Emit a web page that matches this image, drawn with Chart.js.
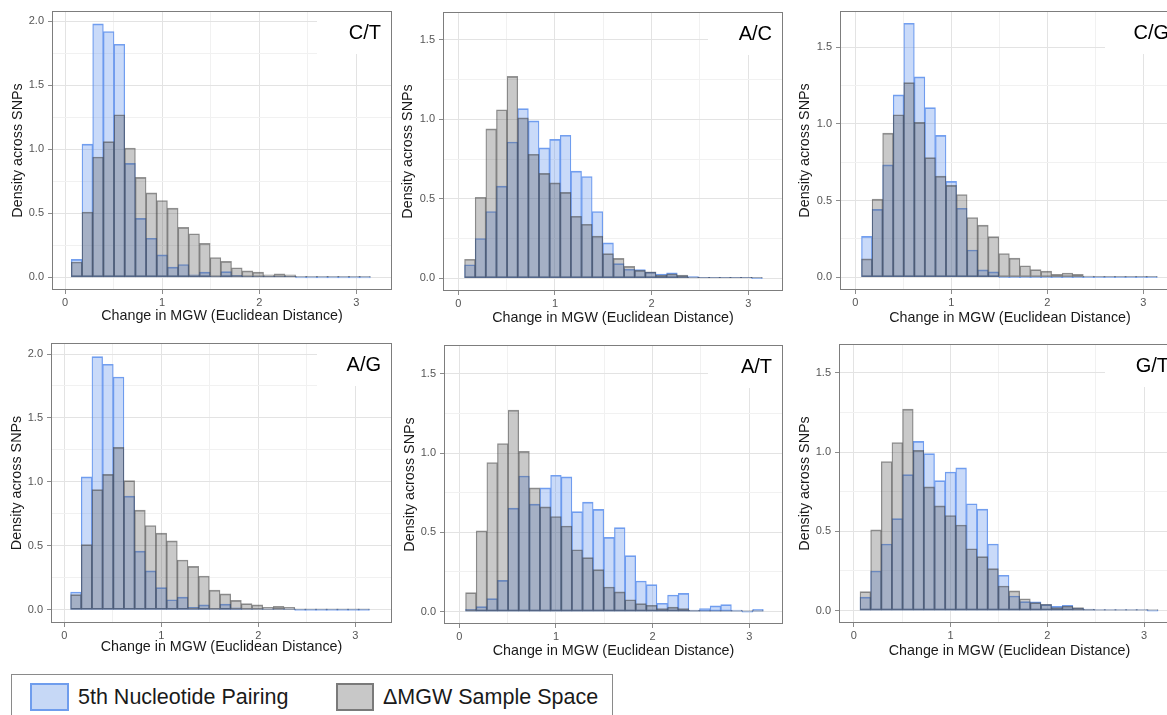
<!DOCTYPE html>
<html lang="en">
<head>
<meta charset="UTF-8">
<title>Change in MGW histograms</title>
<script src="https://cdn.jsdelivr.net/npm/chart.js"></script>
<style>
  html, body { margin: 0; padding: 0; background: #fff; }
  body { position: relative; width: 1167px; height: 715px; overflow: hidden; }
  canvas { position: absolute; }
  .legend { position: absolute; left: 11px; top: 674px; width: 602px; height: 60px; border: 1px solid #8a8a8a; box-sizing: border-box; }
  .key { position: absolute; top: 8px; height: 28px; box-sizing: border-box; border: 2px solid; }
  .lab { position: absolute; top: 12px; font: 21.5px "Liberation Sans", Arial, sans-serif; line-height: 21.5px; color: #1a1a1a; white-space: nowrap; }
</style>
</head>
<body>

<div class="legend">
  <div class="key" style="left:18px; width:39px; background:#c6d8f6; border-color:#6f9ded;"></div>
  <div class="lab" style="left:66px;">5th Nucleotide Pairing</div>
  <div class="key" style="left:324px; width:38px; background:#c8c8c8; border-color:#7a7a7a;"></div>
  <div class="lab" style="left:371px;">ΔMGW Sample Space</div>
</div>

<script>
// bin centres of the histogram (bin width 0.11)
const binCenters = [0.12, 0.23, 0.34, 0.45, 0.56, 0.67, 0.78, 0.89, 1.00, 1.11, 1.22, 1.33, 1.44, 1.55,
                    1.66, 1.77, 1.88, 1.99, 2.10, 2.21, 2.32, 2.43, 2.54, 2.65, 2.76, 2.87, 2.98, 3.09];

// grey: ΔMGW sample space (same in every panel)
const sampleSpace = [0.12, 0.51, 0.94, 1.06, 1.27, 1.01, 0.78, 0.66, 0.60, 0.54, 0.39, 0.34, 0.265, 0.155,
                     0.125, 0.075, 0.05, 0.04, 0.02, 0.028, 0.02, 0.008, 0.006, 0.005, 0.006, 0.003, 0.002, 0.002];

// blue: 5th nucleotide pairing, one list per substitution
const pairCT = [0.14, 1.04, 1.98, 1.92, 1.82, 0.89, 0.46, 0.305, 0.175, 0.08, 0.10, 0.02, 0.04, 0.01,
                0.045, 0.016, 0.008, 0.005, 0.003, 0.003, 0.002, 0, 0, 0, 0, 0, 0, 0];
const pairAC = [0.085, 0.25, 0.42, 0.58, 0.857, 1.067, 0.99, 0.82, 0.874, 0.90, 0.674, 0.64, 0.42, 0.223,
                0.092, 0.057, 0.055, 0.038, 0.027, 0.034, 0.015, 0.01, 0.005, 0.004, 0.003, 0.002, 0.001, 0];
const pairCG = [0.267, 0.443, 0.733, 1.19, 1.657, 1.307, 1.107, 0.926, 0.626, 0.45, 0.178, 0.048, 0.035, 0,
                0, 0, 0, 0, 0, 0, 0, 0, 0, 0, 0, 0, 0, 0];
const pairAG = [0.14, 1.04, 1.98, 1.92, 1.82, 0.89, 0.46, 0.305, 0.175, 0.08, 0.10, 0.02, 0.04, 0.01,
                0.045, 0.016, 0.008, 0.005, 0.003, 0.003, 0.002, 0, 0, 0, 0, 0, 0, 0];
const pairAT = [0.015, 0.032, 0.082, 0.197, 0.653, 0.855, 0.678, 0.78, 0.86, 0.85, 0.63, 0.69, 0.645, 0.468,
                0.53, 0.353, 0.193, 0.17, 0.053, 0.105, 0.115, 0.01, 0.019, 0.036, 0.044, 0.01, 0, 0.015];
const pairGT = [0.085, 0.25, 0.42, 0.58, 0.857, 1.067, 0.99, 0.82, 0.874, 0.90, 0.674, 0.64, 0.42, 0.223,
                0.092, 0.057, 0.055, 0.038, 0.027, 0.034, 0.015, 0.01, 0.005, 0.004, 0.003, 0.002, 0.001, 0];

const panelTags = ['C/T', 'A/C', 'C/G', 'A/G', 'A/T', 'G/T'];
const panelPairs = [pairCT, pairAC, pairCG, pairAG, pairAT, pairGT];

const xTitle = 'Change in MGW (Euclidean Distance)';
const yTitle = 'Density across SNPs';

// page layout of each panel: canvas origin, plot box, axis ranges, title centres
const frames = [
  { cx: 0,   cy: 0,   L: 52,  T: 11,  R: 392,  B: 290, xr: [-0.134, 3.368], yr: [-0.099, 2.080], xt: 316,   yt: 18.5 },
  { cx: 390, cy: 0,   L: 443, T: 12,  R: 783,  B: 291, xr: [-0.158, 3.359], yr: [-0.080, 1.675], xt: 318,   yt: 408.5 },
  { cx: 780, cy: 0,   L: 840, T: 11,  R: 1180, B: 290, xr: [-0.159, 3.382], yr: [-0.083, 1.737], xt: 318,   yt: 805 },
  { cx: 0,   cy: 330, L: 51,  T: 343, R: 392,  B: 623, xr: [-0.137, 3.378], yr: [-0.102, 2.086], xt: 647.5, yt: 17 },
  { cx: 390, cy: 330, L: 444, T: 345, R: 783,  B: 624, xr: [-0.158, 3.349], yr: [-0.078, 1.681], xt: 651,   yt: 410.5 },
  { cx: 780, cy: 330, L: 839, T: 344, R: 1180, B: 623, xr: [-0.152, 3.372], yr: [-0.078, 1.681], xt: 651.5, yt: 805 }
];

const FONT = '"Liberation Sans", Arial, Helvetica, sans-serif';
Chart.defaults.font.family = FONT;

const isMajorX = v => Math.abs(v - Math.round(v)) < 1e-6;
const isMajorY = v => Math.abs(v * 2 - Math.round(v * 2)) < 1e-6;

// white label box, panel tag and frame
const panelTag = {
  id: 'panelTag',
  beforeDatasetsDraw(chart) {
    const a = chart.chartArea, ctx = chart.ctx;
    ctx.save();
    ctx.fillStyle = '#fff';
    ctx.fillRect(a.right - 75, a.top + 1, 74, 42);
    ctx.restore();
  },
  afterDraw(chart, args, opts) {
    const a = chart.chartArea, ctx = chart.ctx;
    ctx.save();
    ctx.font = '20px ' + FONT;
    ctx.fillStyle = '#000';
    ctx.textAlign = 'right';
    ctx.textBaseline = 'alphabetic';
    ctx.fillText(opts.text, a.right - 11, a.top + 28);
    ctx.strokeStyle = '#7d7d7d';
    ctx.lineWidth = 1;
    ctx.strokeRect(Math.round(a.left) + 0.5, Math.round(a.top) + 0.5,
                   Math.round(a.right - a.left) - 1, Math.round(a.bottom - a.top) - 1);
    ctx.restore();
  }
};

function toPoints(vals) {
  return binCenters.map((x, k) => ({ x: x, y: vals[k] }));
}

// thin sides so that neighbouring bars share one outline
const barEdge = { top: 1, bottom: 1, left: 0.6, right: 0.6 };

function makePanel(k) {
  const f = frames[k];
  const cw = f.R - f.cx + 3, ch = 340;
  const cv = document.createElement('canvas');
  cv.width = cw; cv.height = ch;
  cv.style.left = f.cx + 'px'; cv.style.top = f.cy + 'px';
  cv.style.width = cw + 'px'; cv.style.height = ch + 'px';
  document.body.appendChild(cv);

  const titleFont = { size: 14.3, lineHeight: 1.2 };
  const half = 14.3 * 1.2 / 2;

  new Chart(cv, {
    type: 'bar',
    data: {
      datasets: [
        {
          label: 'ΔMGW Sample Space',
          data: toPoints(sampleSpace),
          backgroundColor: 'rgba(90,90,90,0.33)',
          borderColor: 'rgba(60,60,60,0.55)',
          borderWidth: barEdge
        },
        {
          label: '5th Nucleotide Pairing',
          data: toPoints(panelPairs[k]),
          backgroundColor: 'rgba(100,149,237,0.35)',
          borderColor: 'rgba(100,149,237,0.9)',
          borderWidth: barEdge
        }
      ]
    },
    options: {
      responsive: false,
      animation: false,
      devicePixelRatio: 1,
      layout: { padding: { left: 0, top: f.T - f.cy, right: f.cx + cw - f.R, bottom: 0 } },
      datasets: {
        bar: { grouped: false, barPercentage: 1, categoryPercentage: 1, borderSkipped: false, minBarLength: 1 }
      },
      plugins: {
        legend: { display: false },
        tooltip: { enabled: false },
        panelTag: { text: panelTags[k] }
      },
      scales: {
        x: {
          type: 'linear',
          offset: false,
          min: f.xr[0],
          max: f.xr[1],
          grid: {
            offset: false,
            color: c => (c.tick && isMajorX(c.tick.value)) ? '#e3e3e3' : '#f1f1f1',
            tickColor: c => (c.tick && isMajorX(c.tick.value)) ? '#8c8c8c' : 'rgba(0,0,0,0)',
            tickLength: 4,
            lineWidth: 1
          },
          border: { display: false },
          ticks: {
            stepSize: 0.5,
            includeBounds: false,
            autoSkip: false,
            maxRotation: 0,
            padding: 2,
            color: '#555',
            font: { size: 11 },
            callback: v => isMajorX(v) ? String(Math.round(v)) : ''
          },
          title: {
            display: true,
            text: xTitle,
            color: '#1a1a1a',
            font: titleFont,
            padding: { top: 0, bottom: Math.max(0, f.cy + ch - f.xt - half) }
          },
          afterFit: s => { s.height = f.cy + ch - f.B; }
        },
        y: {
          min: f.yr[0],
          max: f.yr[1],
          grid: {
            color: c => (c.tick && isMajorY(c.tick.value)) ? '#e3e3e3' : '#f1f1f1',
            tickColor: c => (c.tick && isMajorY(c.tick.value)) ? '#8c8c8c' : 'rgba(0,0,0,0)',
            tickLength: 4,
            lineWidth: 1
          },
          border: { display: false },
          ticks: {
            stepSize: 0.25,
            includeBounds: false,
            autoSkip: false,
            padding: 4,
            color: '#555',
            font: { size: 11 },
            callback: v => isMajorY(v) ? v.toFixed(1) : ''
          },
          title: {
            display: true,
            text: yTitle,
            color: '#1a1a1a',
            font: titleFont,
            padding: { top: Math.max(0, f.yt - f.cx - half), bottom: 0 }
          },
          afterFit: s => { s.width = f.L - f.cx; }
        }
      }
    },
    plugins: [panelTag]
  });
}

for (let k = 0; k < frames.length; k++) makePanel(k);
</script>
</body>
</html>
